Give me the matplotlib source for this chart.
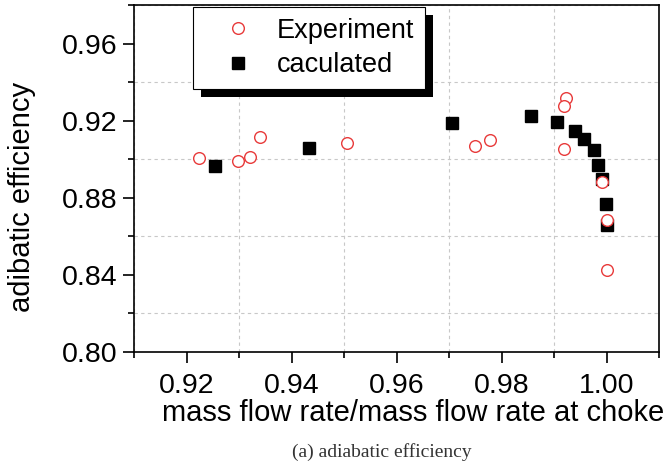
import numpy as np
import matplotlib
matplotlib.use("Agg")
import matplotlib.pyplot as plt
import matplotlib.ticker as ticker
import matplotlib.patheffects as pe

# --- data ---
exp_x = [0.9224, 0.9298, 0.9321, 0.9340, 0.9506, 0.9748, 0.9778,
         0.9923, 0.9919, 0.9919, 0.9991, 1.0001, 1.0001]
exp_y = [0.9005, 0.8990, 0.9010, 0.9114, 0.9083, 0.9068, 0.9100,
         0.9317, 0.9275, 0.9052, 0.8880, 0.8683, 0.8423]

calc_x = [0.9254, 0.9433, 0.9706, 0.9856, 0.9906, 0.9940, 0.9957,
          0.9976, 0.9984, 0.9991, 0.9999, 1.0001]
calc_y = [0.8964, 0.9057, 0.9187, 0.9223, 0.9192, 0.9145, 0.9104,
          0.9047, 0.8969, 0.8896, 0.8766, 0.8657]

x_ticks = [0.92, 0.94, 0.96, 0.98, 1.00]
y_ticks = [0.80, 0.84, 0.88, 0.92, 0.96]

W, H = 672, 471
FS = 21       # axis titles
FS_TICK = 20.5
plt.rcParams['font.family'] = ['Liberation Sans', 'DejaVu Sans']

fig = plt.figure(figsize=(W / 100, H / 100), dpi=100)
ax = fig.add_axes([134.3 / W, 1 - 351.7 / H, 525 / W, 346.4 / H])

ax.plot(calc_x, calc_y, linestyle='None', marker='s', markersize=8.6,
        color='black', label='caculated', zorder=3)
ax.plot(exp_x, exp_y, linestyle='None', marker='o', markersize=8.4,
        markerfacecolor='white', markeredgecolor='#e83a3a', markeredgewidth=1.0,
        label='Experiment', zorder=4)

ax.set_xlim(0.91, 1.01)
ax.set_ylim(0.80, 0.98)
ax.xaxis.set_major_locator(ticker.FixedLocator(x_ticks))
ax.xaxis.set_minor_locator(ticker.MultipleLocator(0.02, offset=0.01))
ax.yaxis.set_major_locator(ticker.FixedLocator(y_ticks))
ax.yaxis.set_minor_locator(ticker.MultipleLocator(0.04, offset=0.02))
ax.xaxis.set_major_formatter(ticker.FormatStrFormatter('%.2f'))
ax.yaxis.set_major_formatter(ticker.FormatStrFormatter('%.2f'))

ax.tick_params(which='major', direction='out', length=8, width=1.2,
               labelsize=FS_TICK, top=False, right=False)
ax.tick_params(which='minor', direction='out', length=4, width=1.2,
               top=False, right=False)
ax.tick_params(axis='x', which='major', pad=7)
ax.tick_params(axis='y', which='major', pad=4)
for s in ax.spines.values():
    s.set_linewidth(1.2)

ax.grid(False, which='major')
ax.grid(True, which='minor', linestyle=(0, (3, 3)), color='#c8c8c8', linewidth=0.8)
ax.set_axisbelow(True)

handles, labels = ax.get_legend_handles_labels()
leg = ax.legend(handles[::-1], labels[::-1], loc='upper left',
                bbox_to_anchor=(0.1118, 0.995), borderaxespad=0,
                fontsize=19.5, frameon=True, fancybox=False, framealpha=1,
                edgecolor='black', borderpad=0.4, handlelength=2.52,
                handletextpad=0.18, labelspacing=0.3)
leg.get_frame().set_linewidth(0.8)
leg.get_frame().set_path_effects([
    pe.SimplePatchShadow(offset=(6, -6), shadow_rgbFace='black', alpha=1),
    pe.Normal()])

fig.text(22 / W, 1 - 197 / H, 'adibatic efficiency', rotation=90,
         ha='center', va='center', fontsize=FS)
fig.text(413.5 / W, 1 - 420.7 / H, 'mass flow rate/mass flow rate at choke',
         ha='center', va='baseline', fontsize=FS)
fig.text(382 / W, 1 - 452 / H, '(a) adiabatic efficiency', ha='center',
         va='center', fontsize=14, color='#333333',
         family=['Liberation Serif', 'DejaVu Serif'])

fig.savefig('out.png', dpi=100)
